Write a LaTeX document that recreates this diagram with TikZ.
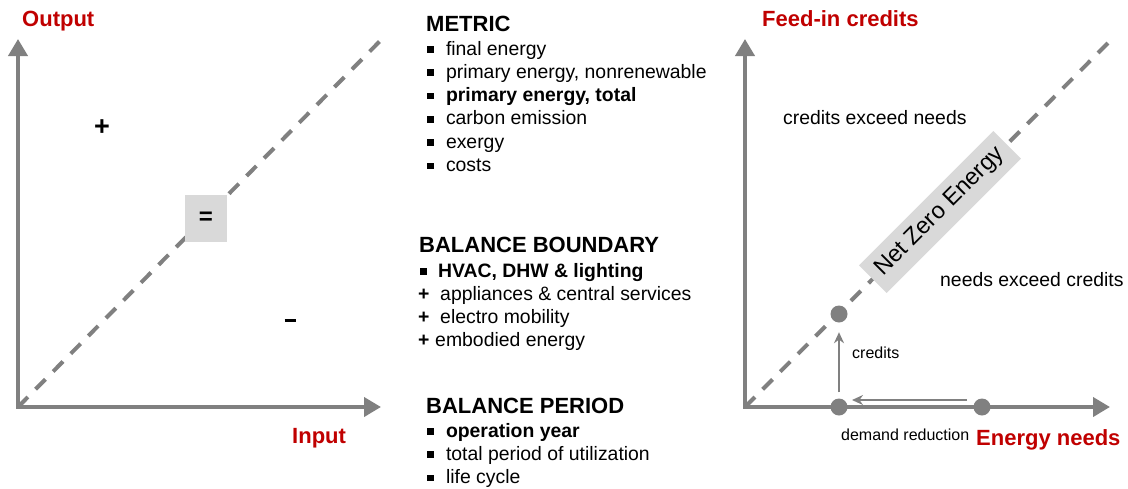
\documentclass[tikz,border=0pt]{standalone}
\usepackage{fontspec}
\setmainfont{Liberation Sans}
\usetikzlibrary{arrows.meta}
\definecolor{axgray}{HTML}{808080}
\definecolor{boxgray}{HTML}{D9D9D9}
\definecolor{lblred}{HTML}{C00000}
\newcommand{\sqbul}{\raisebox{2.4pt}{\rule{6.5pt}{6.5pt}}}
\begin{document}
\begin{tikzpicture}[x=1pt,y=-1pt,
  axis/.style={line width=4pt, draw=axgray, line join=miter, {Triangle[length=17pt,width=19pt]}-{Triangle[length=17pt,width=19pt]}},
  diag/.style={line width=4pt, draw=axgray, dash pattern=on 14pt off 11pt},
  redlbl/.style={text=lblred, font=\fontsize{22}{26}\selectfont\bfseries, inner sep=0, anchor=base west},
  body/.style={font=\fontsize{19.4}{23}\selectfont, inner sep=0, anchor=base west},
  ttl/.style={font=\fontsize{22}{26}\selectfont\bfseries, inner sep=0, anchor=base west},
  small/.style={font=\fontsize{16}{19}\selectfont, inner sep=0, anchor=base west},
  dot/.style={circle, fill=axgray, minimum size=17pt, inner sep=0},
  thinarrow/.style={line width=2.4pt, draw=axgray, -{Stealth[length=11pt,width=10pt]}},
  graybox/.style={fill=boxgray, inner sep=0}
]
\useasboundingbox (0,0) rectangle (1128,488);

% ---------- left plot ----------
\coordinate (O1) at (18,407);
\coordinate (Y1) at (18,39);
\coordinate (X1) at (381,407);
\coordinate (D1) at (382,39);
\draw[diag] (O1) -- (D1);
\draw[axis] (Y1) -- (O1) -- (X1);
\node[graybox, minimum width=42pt, minimum height=47pt, font=\fontsize{24}{28}\selectfont\bfseries] (eq) at (206,218.5) {=};
\node[font=\fontsize{27}{30}\selectfont\bfseries, inner sep=0] (plus) at (102,128) {+};
\node[inner sep=0] (minus) at (290,320.5) {\rule{11pt}{2.6pt}};
\node[redlbl] (output) at (22,26.7) {Output};
\node[redlbl] (input) at (292,443) {Input};

% ---------- middle text ----------
\node[ttl] (metric) at (426,31) {METRIC};
\node[body] (m1) at (426.8,55) {\sqbul\hspace{12.5pt}final energy};
\node[body] (m2) at (426.8,78.3) {\sqbul\hspace{12.5pt}primary energy, nonrenewable};
\node[body] (m3) at (426.8,101.6) {\sqbul\hspace{12.5pt}\textbf{primary energy, total}};
\node[body] (m4) at (426.8,124.9) {\sqbul\hspace{12.5pt}carbon emission};
\node[body] (m5) at (426.8,148.2) {\sqbul\hspace{12.5pt}exergy};
\node[body] (m6) at (426.8,171.5) {\sqbul\hspace{12.5pt}costs};

\node[ttl] (bb) at (419,252) {BALANCE BOUNDARY};
\node[body] (b1) at (419.8,277) {\sqbul\hspace{11.5pt}\textbf{HVAC, DHW \& lighting}};
\node[body] (b2) at (418,300.3) {\textbf{+}\hspace{10.7pt}appliances \& central services};
\node[body] (b3) at (418,323.6) {\textbf{+}\hspace{10.7pt}electro mobility};
\node[body] (b4) at (418,346.9) {\textbf{+}\hspace{5.7pt}embodied energy};

\node[ttl] (bp) at (426,413) {BALANCE PERIOD};
\node[body] (p1) at (426.8,437) {\sqbul\hspace{12.5pt}\textbf{operation year}};
\node[body] (p2) at (426.8,460.3) {\sqbul\hspace{12.5pt}total period of utilization};
\node[body] (p3) at (426.8,483.6) {\sqbul\hspace{12.5pt}life cycle};

% ---------- right plot ----------
\coordinate (O2) at (745,407);
\coordinate (Y2) at (745,39);
\coordinate (X2) at (1110,407);
\coordinate (D2) at (1112,39);
\draw[diag] (O2) -- (D2);
\draw[axis] (Y2) -- (O2) -- (X2);
\node[graybox, rotate=45, minimum width=190pt, minimum height=39pt, font=\fontsize{23.5}{28}\selectfont] (nze) at (940,212) {Net Zero Energy};
\node[dot] (dA) at (839,314) {};
\node[dot] (dB) at (839,407) {};
\node[dot] (dC) at (982,407) {};
\draw[thinarrow, shorten <=6pt, shorten >=9.5pt] (dB.north) -- (dA.south);
\coordinate (h1) at (967,400);
\coordinate (h2) at (852,400);
\draw[thinarrow] (h1) -- (h2);
\node[redlbl] (feed) at (762,26.7) {Feed-in credits};
\node[body] (cen) at (783,124.5) {credits exceed needs};
\node[body] (nec) at (940,286) {needs exceed credits};
\node[small] (cr) at (852,358.3) {credits};
\node[small] (dr) at (841,440.5) {demand reduction};
\node[redlbl] (en) at (976,445) {Energy needs};
\end{tikzpicture}
\end{document}
